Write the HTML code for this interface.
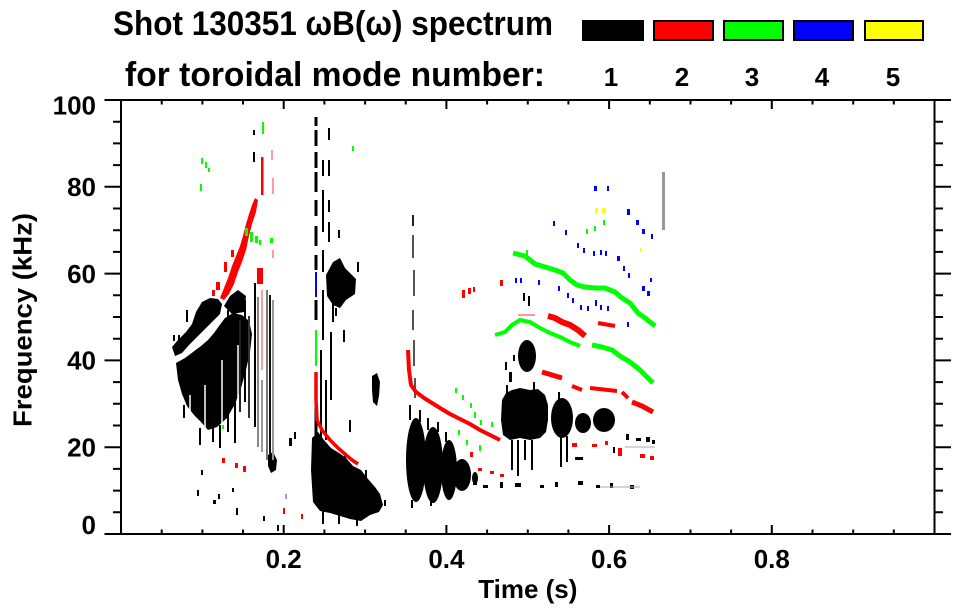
<!DOCTYPE html>
<html><head><meta charset="utf-8"><style>
html,body{margin:0;padding:0;background:#fff;}
svg{display:block;}
text{font-family:"Liberation Sans",Arial,sans-serif;font-weight:bold;fill:#000;}
</style></head><body>
<svg width="963" height="615" viewBox="0 0 963 615" xmlns="http://www.w3.org/2000/svg">
<rect width="963" height="615" fill="#fff"/>
<!-- Title -->
<text x="113" y="35" font-size="34" textLength="440" lengthAdjust="spacingAndGlyphs">Shot 130351 ωB(ω) spectrum</text>
<text x="125" y="86" font-size="34" textLength="420" lengthAdjust="spacingAndGlyphs">for toroidal mode number:</text>
<!-- Legend -->
<rect x="582" y="20" width="62" height="21" fill="#000"/>
<rect x="654" y="21" width="59" height="19" fill="#f00" stroke="#000" stroke-width="2"/>
<rect x="724" y="21" width="59" height="19" fill="#0f0" stroke="#000" stroke-width="2"/>
<rect x="794" y="21" width="59" height="19" fill="#00f" stroke="#000" stroke-width="2"/>
<rect x="865" y="21" width="58" height="19" fill="#ff0" stroke="#000" stroke-width="2"/>
<g font-size="26" text-anchor="middle">
<text x="611" y="86">1</text><text x="682" y="86">2</text><text x="752" y="86">3</text><text x="822" y="86">4</text><text x="893" y="86">5</text>
</g>

<!-- DATA -->
<g id="data">
<!-- Region A black -->
<g fill="#000">
<polygon points="172,347 178,340 186,332 192,324 196,312 202,302 210,298 218,299 222,304 220,314 213,321 205,329 197,337 189,345 182,353 175,356"/>
<polygon points="176,363 185,358 193,352 201,346 208,340 214,333 219,326 225,318 233,313 242,315 249,321 252,334 250,352 246,370 241,388 235,404 227,418 217,427 208,430 201,422 194,415 187,406 182,394 178,380"/>
<polygon points="224,306 230,296 238,290 246,296 244,312 232,314"/>
<polygon points="268,455 273,452 277,460 276,470 271,473 268,466"/>
<polygon points="372,376 377,373 380,382 379,396 377,406 373,402 372,390"/>
</g>
<g stroke="#fff" stroke-width="1.5">
<line x1="205" y1="385" x2="205" y2="432"/><line x1="222" y1="360" x2="222" y2="425"/><line x1="238" y1="345" x2="238" y2="405"/><line x1="190" y1="395" x2="190" y2="420"/>
</g>
<g stroke-width="2">
<line x1="228" y1="310" x2="228" y2="432" stroke="#000"/>
<line x1="235" y1="297" x2="235" y2="443" stroke="#000"/>
<line x1="240" y1="320" x2="240" y2="412" stroke="#222"/>
<line x1="245" y1="300" x2="245" y2="402" stroke="#000"/>
<line x1="249" y1="316" x2="249" y2="418" stroke="#333"/>
<line x1="255" y1="283" x2="255" y2="427" stroke="#000"/>
<line x1="258" y1="297" x2="258" y2="447" stroke="#888"/>
<line x1="262" y1="290" x2="262" y2="370" stroke="#f8a0a0"/>
<line x1="262" y1="380" x2="262" y2="452" stroke="#999"/>
<line x1="267" y1="290" x2="267" y2="460" stroke="#777"/>
<line x1="270" y1="295" x2="270" y2="455" stroke="#111"/>
<line x1="273" y1="300" x2="273" y2="460" stroke="#999"/>
<line x1="213" y1="428" x2="213" y2="442" stroke="#000"/>
<line x1="220" y1="425" x2="220" y2="448" stroke="#000"/>
<line x1="200" y1="428" x2="200" y2="445" stroke="#000"/>
<line x1="184" y1="405" x2="184" y2="418" stroke="#000"/>
<line x1="179" y1="335" x2="179" y2="343" stroke="#000"/>
<line x1="187" y1="310" x2="187" y2="322" stroke="#000"/>
</g>
<!-- Region A red/green -->
<polygon fill="#f00" points="220,298 224,288 228,278 232,266 236,256 240,246 243,236 246,224 249,214 252,205 255,198 258,200 256,212 252,224 249,236 246,250 242,262 238,272 234,284 229,294 224,300"/>
<g fill="#f00">
<rect x="216" y="282" width="4" height="8"/><rect x="224" y="262" width="3" height="10"/><rect x="231" y="250" width="3" height="7"/>
<rect x="257" y="268" width="6" height="16"/><rect x="261" y="157" width="2.5" height="38"/>
<rect x="222" y="458" width="3" height="5"/><rect x="235" y="463" width="3" height="5"/><rect x="243" y="466" width="3" height="6"/>
<rect x="283" y="508" width="2" height="6"/><rect x="301" y="514" width="2" height="5"/><rect x="212" y="290" width="3" height="6"/>
</g>
<g fill="#f9a">
<rect x="271" y="150" width="2" height="10"/><rect x="272" y="178" width="2" height="16"/><rect x="272" y="250" width="2" height="8"/>
</g>
<g fill="#0f0">
<rect x="245" y="228" width="3" height="8"/><rect x="250" y="232" width="3" height="10"/><rect x="255" y="236" width="3" height="7"/>
<rect x="259" y="240" width="2" height="5"/><rect x="270" y="238" width="3" height="5"/><rect x="201" y="158" width="2" height="6"/>
<rect x="205" y="162" width="2" height="6"/><rect x="208" y="168" width="2" height="4"/><rect x="200" y="184" width="2" height="7"/>
<rect x="262" y="122" width="2" height="12"/><rect x="352" y="146" width="2" height="5"/><rect x="222" y="425" width="2" height="4"/>
</g>
<g fill="#000">
<rect x="253" y="130" width="2" height="5"/><rect x="253" y="152" width="2" height="10"/>
<rect x="197" y="490" width="2" height="6"/><rect x="213" y="500" width="3" height="4"/><rect x="232" y="488" width="2" height="4"/>
<rect x="236" y="508" width="2" height="7"/><rect x="218" y="494" width="2" height="5"/><rect x="263" y="516" width="2" height="5"/>
<rect x="277" y="525" width="2" height="6"/><rect x="289" y="438" width="3" height="8"/><rect x="294" y="432" width="2" height="7"/>
<rect x="173" y="335" width="2" height="6"/><rect x="201" y="470" width="2" height="5"/>
</g>
<rect x="285" y="494" width="2" height="5" fill="#99f"/>

<!-- Region B -->
<g stroke="#000" stroke-width="3">
<line x1="316" y1="117" x2="316" y2="126"/><line x1="316" y1="130" x2="316" y2="146"/><line x1="316" y1="152" x2="316" y2="168"/>
<line x1="316" y1="172" x2="316" y2="192"/><line x1="316" y1="200" x2="316" y2="216"/><line x1="316" y1="226" x2="316" y2="246"/>
<line x1="316" y1="255" x2="316" y2="270"/><line x1="316" y1="300" x2="316" y2="320"/><line x1="316" y1="375" x2="316" y2="445"/>
</g>
<g stroke="#000" stroke-width="2">
<line x1="323" y1="160" x2="323" y2="176"/><line x1="323" y1="190" x2="323" y2="232"/><line x1="323" y1="250" x2="323" y2="272"/>
<line x1="323" y1="290" x2="323" y2="340"/><line x1="329" y1="128" x2="329" y2="140"/><line x1="329" y1="160" x2="329" y2="176"/>
<line x1="329" y1="200" x2="329" y2="212"/><line x1="329" y1="222" x2="329" y2="242"/><line x1="333" y1="300" x2="333" y2="322"/>
<line x1="331" y1="332" x2="331" y2="400"/><line x1="321" y1="350" x2="321" y2="445"/><line x1="326" y1="380" x2="326" y2="440"/>
<line x1="339" y1="230" x2="339" y2="238"/><line x1="344" y1="330" x2="344" y2="342"/><line x1="350" y1="420" x2="350" y2="432"/>
<line x1="358" y1="262" x2="358" y2="272"/><line x1="336" y1="308" x2="336" y2="316"/>
</g>
<polygon fill="#000" points="326,275 333,262 340,258 345,268 350,273 356,279 355,294 346,300 340,308 333,305 327,296"/>
<polygon fill="#000" points="312,438 318,432 324,440 331,448 339,453 346,458 353,466 361,470 368,479 375,487 380,494 383,505 379,512 370,515 361,521 350,519 340,516 330,513 320,511 313,502 311,470"/>
<g stroke="#000" stroke-width="2">
<line x1="323" y1="510" x2="323" y2="524"/><line x1="339" y1="514" x2="339" y2="524"/><line x1="357" y1="517" x2="357" y2="526"/>
<line x1="345" y1="452" x2="345" y2="462"/><line x1="366" y1="470" x2="366" y2="480"/><line x1="385" y1="500" x2="385" y2="506"/>
</g>
<polyline fill="none" stroke="#f00" stroke-width="3.5" points="316,372 316,400 317,420 322,430 330,440 338,448 346,455 352,460 358,464"/>
<line x1="316" y1="330" x2="316" y2="366" stroke="#0f0" stroke-width="2"/>
<line x1="316" y1="272" x2="316" y2="297" stroke="#00f" stroke-width="2"/>

<!-- Region C -->
<g stroke="#555" stroke-width="2">
<line x1="413" y1="215" x2="413" y2="226" stroke="#222"/><line x1="413" y1="235" x2="413" y2="258"/><line x1="414" y1="270" x2="414" y2="296"/>
<line x1="413" y1="310" x2="413" y2="330"/><line x1="414" y1="340" x2="414" y2="366"/><line x1="415" y1="378" x2="415" y2="398"/>
</g>
<polyline fill="none" stroke="#f00" stroke-width="4" points="408,350 409,370 411,385 416,392 424,398 432,403 440,408 450,414 460,419 470,424 480,430 490,435 500,440"/>
<g fill="#000">
<ellipse cx="416" cy="460" rx="10" ry="42"/>
<ellipse cx="433" cy="465" rx="10" ry="38"/>
<ellipse cx="449" cy="470" rx="8" ry="30"/>
<ellipse cx="462" cy="475" rx="9" ry="16"/>
<ellipse cx="475" cy="478" rx="3" ry="6"/>
</g>
<g stroke="#000" stroke-width="2">
<line x1="410" y1="405" x2="410" y2="420"/><line x1="420" y1="410" x2="420" y2="422"/><line x1="428" y1="418" x2="428" y2="430"/>
<line x1="438" y1="422" x2="438" y2="432"/><line x1="446" y1="432" x2="446" y2="442"/><line x1="412" y1="500" x2="412" y2="508"/>
<line x1="431" y1="500" x2="431" y2="506"/>
</g>
<g fill="#0f0">
<rect x="455" y="388" width="2" height="5"/><rect x="462" y="395" width="2" height="5"/><rect x="470" y="403" width="2" height="5"/>
<rect x="474" y="412" width="2" height="6"/><rect x="480" y="420" width="2" height="5"/><rect x="466" y="440" width="2" height="5"/>
<rect x="458" y="430" width="2" height="5"/><rect x="479" y="445" width="2" height="6"/><rect x="491" y="422" width="2" height="5"/>
</g>
<g fill="#f00">
<rect x="470" y="452" width="3" height="5"/><rect x="478" y="468" width="4" height="3"/><rect x="490" y="471" width="4" height="3"/>
<rect x="500" y="474" width="4" height="3"/><rect x="462" y="290" width="3" height="8"/><rect x="468" y="288" width="3" height="6"/>
<rect x="473" y="287" width="2" height="5"/><rect x="500" y="280" width="3" height="6"/>
</g>

<!-- Region D black -->
<g fill="#000">
<polygon points="502,400 506,393 512,390 520,388 530,390 538,389 545,395 548,405 548,420 546,432 540,438 530,440 520,438 510,440 503,435 501,420"/>
<ellipse cx="562" cy="418" rx="11" ry="20"/>
<ellipse cx="583" cy="423" rx="8" ry="10"/>
<ellipse cx="604" cy="420" rx="11" ry="12"/>
<ellipse cx="527" cy="356" rx="9" ry="16"/>
<rect x="523" y="293" width="2" height="8"/><rect x="528" y="296" width="2" height="10"/>
<rect x="505" y="362" width="2" height="8"/><rect x="509" y="372" width="3" height="10"/><rect x="513" y="355" width="2" height="6"/>
<rect x="626" y="434" width="3" height="6"/><rect x="636" y="438" width="5" height="3"/><rect x="646" y="437" width="4" height="5"/><rect x="652" y="440" width="3" height="4"/>
<rect x="473" y="480" width="4" height="5"/><rect x="483" y="485" width="5" height="3"/><rect x="500" y="482" width="3" height="6"/>
<rect x="515" y="483" width="6" height="4"/><rect x="540" y="485" width="4" height="3"/><rect x="555" y="482" width="3" height="5"/>
<rect x="578" y="481" width="5" height="4"/><rect x="596" y="485" width="4" height="3"/><rect x="610" y="483" width="3" height="5"/>
<rect x="630" y="485" width="4" height="4"/><rect x="575" y="457" width="8" height="3"/><rect x="613" y="447" width="2" height="6"/>
</g>
<g stroke="#000" stroke-width="2">
<line x1="512" y1="440" x2="512" y2="470"/><line x1="518" y1="440" x2="518" y2="476"/><line x1="525" y1="440" x2="525" y2="460"/>
<line x1="532" y1="440" x2="532" y2="470"/><line x1="561" y1="436" x2="561" y2="467"/><line x1="567" y1="436" x2="567" y2="462"/>
<line x1="507" y1="385" x2="507" y2="395"/><line x1="534" y1="382" x2="534" y2="392"/><line x1="559" y1="392" x2="559" y2="400"/>
</g>
<g stroke="#aaa" stroke-width="1">
<line x1="600" y1="487" x2="640" y2="487"/><line x1="625" y1="447" x2="655" y2="447"/>
</g>

<!-- Region D red -->
<g fill="none" stroke="#f00">
<polyline stroke-width="6" points="548,316 555,318 562,322 570,325 578,330 585,336"/>
<line stroke-width="1.5" stroke="#f77" x1="518" y1="315" x2="535" y2="315"/>
<line stroke-width="4" x1="598" y1="323" x2="615" y2="326"/>
<line stroke-width="5" x1="542" y1="372" x2="562" y2="378"/>
<line stroke-width="4" x1="572" y1="386" x2="582" y2="390"/>
<line stroke-width="4" x1="590" y1="388" x2="617" y2="391"/>
<line stroke-width="4" x1="622" y1="392" x2="628" y2="398"/>
<polyline stroke-width="5" points="632,402 642,406 653,412"/>
</g>
<g fill="#f00">
<rect x="572" y="443" width="5" height="4"/><rect x="592" y="444" width="5" height="3"/><rect x="618" y="448" width="4" height="8"/>
<rect x="640" y="454" width="5" height="4"/><rect x="650" y="456" width="4" height="4"/><rect x="605" y="441" width="3" height="4"/>
</g>
<!-- Region D green -->
<g fill="none" stroke="#0f0">
<polyline stroke-width="5" points="513,253 525,256 535,264 545,267 555,270 563,273 570,280 577,285 585,287 595,288 605,288 615,292 622,298 630,303 638,313 645,318 655,326"/>
<polyline stroke-width="4" points="495,335 505,332 512,325 520,320 530,322 540,328 550,333 560,337 570,342 580,346"/>
<polyline stroke-width="5" points="592,345 602,347 612,350 620,356 630,362 640,370 647,377 653,383"/>
</g>
<g fill="#0f0">
<rect x="586" y="229" width="2" height="5"/><rect x="594" y="226" width="2" height="5"/><rect x="603" y="220" width="2" height="5"/>
<rect x="526" y="250" width="2" height="5"/><rect x="532" y="260" width="2" height="4"/>
</g>
<g fill="#00f">
<rect x="594" y="186" width="3" height="5"/><rect x="607" y="186" width="2" height="5"/><rect x="627" y="209" width="3" height="6"/>
<rect x="636" y="220" width="3" height="5"/><rect x="642" y="229" width="3" height="5"/><rect x="651" y="234" width="2" height="5"/>
<rect x="553" y="221" width="2" height="5"/><rect x="565" y="230" width="2" height="5"/><rect x="577" y="243" width="2" height="5"/>
<rect x="583" y="248" width="2" height="5"/><rect x="593" y="251" width="2" height="5"/><rect x="600" y="250" width="2" height="5"/>
<rect x="605" y="251" width="2" height="5"/><rect x="617" y="256" width="3" height="5"/><rect x="623" y="266" width="2" height="5"/>
<rect x="628" y="273" width="2" height="5"/><rect x="515" y="278" width="2" height="5"/><rect x="520" y="278" width="2" height="5"/>
<rect x="538" y="280" width="2" height="5"/><rect x="558" y="286" width="2" height="5"/><rect x="567" y="293" width="2" height="5"/>
<rect x="572" y="298" width="2" height="5"/><rect x="580" y="305" width="2" height="5"/><rect x="587" y="306" width="2" height="5"/>
<rect x="595" y="300" width="2" height="6"/><rect x="600" y="305" width="2" height="5"/><rect x="607" y="306" width="2" height="5"/>
<rect x="627" y="322" width="2" height="5"/><rect x="642" y="286" width="3" height="5"/><rect x="647" y="291" width="3" height="5"/>
<rect x="650" y="278" width="2" height="4"/>
</g>
<g fill="#ff0">
<rect x="595" y="208" width="3" height="5"/><rect x="602" y="208" width="3" height="5"/><rect x="640" y="248" width="2" height="4"/>
</g>
<rect x="662" y="172" width="3" height="58" fill="#999"/>
</g>

<!-- AXES -->
<g stroke="#000" stroke-width="2" fill="none">
<rect x="121" y="100" width="813.5" height="434"/>
<path d="M104.5 534H951M104.5 100H951
M104.5 447.2H121M934.5 447.2H951
M104.5 360.4H121M934.5 360.4H951
M104.5 273.6H121M934.5 273.6H951
M104.5 186.8H121M934.5 186.8H951
M113 512.3H121M934.5 512.3H943
M113 490.6H121M934.5 490.6H943
M113 468.9H121M934.5 468.9H943
M113 425.5H121M934.5 425.5H943
M113 403.8H121M934.5 403.8H943
M113 382.1H121M934.5 382.1H943
M113 338.7H121M934.5 338.7H943
M113 317H121M934.5 317H943
M113 295.3H121M934.5 295.3H943
M113 251.9H121M934.5 251.9H943
M113 230.2H121M934.5 230.2H943
M113 208.5H121M934.5 208.5H943
M113 165.1H121M934.5 165.1H943
M113 143.4H121M934.5 143.4H943
M113 121.7H121M934.5 121.7H943
M283.7 100V109M283.7 534V525
M446.4 100V109M446.4 534V525
M609.1 100V109M609.1 534V525
M771.8 100V109M771.8 534V525
M161.7 100V104.5M161.7 534V529.5
M202.4 100V104.5M202.4 534V529.5
M243 100V104.5M243 534V529.5
M324.4 100V104.5M324.4 534V529.5
M365.1 100V104.5M365.1 534V529.5
M405.7 100V104.5M405.7 534V529.5
M487.1 100V104.5M487.1 534V529.5
M527.8 100V104.5M527.8 534V529.5
M568.4 100V104.5M568.4 534V529.5
M649.8 100V104.5M649.8 534V529.5
M690.5 100V104.5M690.5 534V529.5
M731.1 100V104.5M731.1 534V529.5
M812.5 100V104.5M812.5 534V529.5
M853.2 100V104.5M853.2 534V529.5
M893.8 100V104.5M893.8 534V529.5"/>
</g>
<!-- Tick labels -->
<g font-size="26" text-anchor="end">
<text x="96" y="534">0</text>
<text x="96" y="456.5">20</text>
<text x="96" y="369.7">40</text>
<text x="96" y="282.9">60</text>
<text x="96" y="196.1">80</text>
<text x="96" y="114.5">100</text>
</g>
<g font-size="26" text-anchor="middle">
<text x="283.7" y="568">0.2</text>
<text x="446.4" y="568">0.4</text>
<text x="609.1" y="568">0.6</text>
<text x="771.8" y="568">0.8</text>
<text x="527.8" y="598">Time (s)</text>
</g>
<text font-size="26" text-anchor="middle" transform="translate(31.5,320) rotate(-90)" textLength="214" lengthAdjust="spacingAndGlyphs">Frequency (kHz)</text>
</svg>
</body></html>
